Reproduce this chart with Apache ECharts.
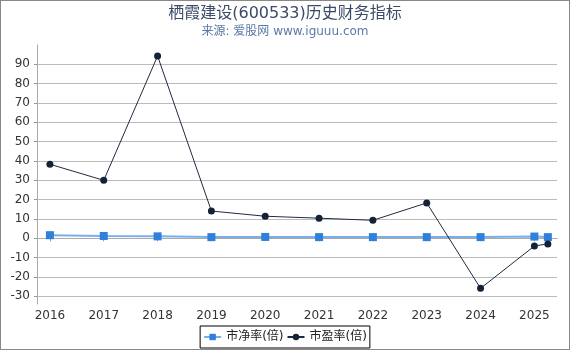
<!DOCTYPE html>
<html>
<head>
<meta charset="utf-8">
<script src="https://cdn.jsdelivr.net/npm/echarts@6/dist/echarts.min.js"></script>
<style>
html,body{margin:0;padding:0;background:#fff;}
#c{width:570px;height:350px;box-sizing:border-box;border:1px solid #888;}
</style>
</head>
<body>
<div id="c"></div>
<script>
// Report dates (x), as decimal years
var dates = [2016, 2017, 2018, 2019, 2020, 2021, 2022, 2023, 2024, 2025, 2025.25];
var pbValues = [1.6, 1.2, 1.0, 0.6, 0.7, 0.6, 0.6, 0.6, 0.6, 0.9, 0.6];
var peValues = [38.3, 30.0, 94.3, 14.1, 11.4, 10.4, 9.3, 18.3, -25.9, -4.0, -2.9];
var yTicks = [-30, -20, -10, 0, 10, 20, 30, 40, 50, 60, 70, 80, 90];
var xTicks = [2016, 2017, 2018, 2019, 2020, 2021, 2022, 2023, 2024, 2025];
var title = '栖霞建设(600533)历史财务指标';
var subtitle = '来源: 爱股网 www.iguuu.com';
var names = ['市净率(倍)', '市盈率(倍)'];

function pairs(xs, ys) { return xs.map(function (x, i) { return [x, ys[i]]; }); }

var FONT = '"DejaVu Sans", "Noto Sans CJK SC", sans-serif';
var chart = echarts.init(document.getElementById('c'), null, {renderer: 'canvas'});
chart.setOption({
  animation: false,
  textStyle: {fontFamily: FONT},
  title: {
    text: title,
    subtext: subtitle,
    left: 'center',
    top: 0,
    itemGap: 4,
    textStyle: {fontSize: 16, fontWeight: 'normal', color: '#3b4a66', fontFamily: FONT},
    subtextStyle: {fontSize: 12, color: '#5b79a6', fontFamily: FONT}
  },
  legend: {
    bottom: 1,
    left: 'center',
    data: names,
    borderColor: '#000',
    borderWidth: 1,
    borderRadius: 0,
    padding: [5, 3],
    itemGap: 3,
    itemWidth: 17,
    itemHeight: 8,
    textStyle: {fontSize: 12, color: '#222', fontFamily: FONT}
  },
  grid: {left: 36, right: 12, top: 44, bottom: 45, containLabel: false},
  xAxis: {
    type: 'value',
    min: 2015.76,
    max: 2025.42,
    axisLine: {show: true, lineStyle: {color: '#aaa'}},
    axisTick: {show: true, length: 3, lineStyle: {color: '#999'}, customValues: xTicks},
    axisLabel: {customValues: xTicks, color: '#333', fontSize: 12, margin: 6, formatter: function (v) { return String(Math.round(v)); }},
    splitLine: {show: false}
  },
  yAxis: {
    type: 'value',
    min: -34,
    max: 100,
    axisLine: {show: true, lineStyle: {color: '#aaa'}},
    axisTick: {show: true, length: 3, lineStyle: {color: '#999'}, customValues: yTicks},
    axisLabel: {customValues: yTicks, color: '#333', fontSize: 12, margin: 7},
    splitLine: {show: true, lineStyle: {color: '#bbb', width: 1}}
  },
  series: [
    {
      name: names[0],
      type: 'line',
      data: pairs(dates, pbValues),
      symbol: 'rect',
      symbolSize: 8,
      itemStyle: {color: '#2f7fdc'},
      lineStyle: {color: '#7aaee8', width: 2}
    },
    {
      name: names[1],
      type: 'line',
      data: pairs(dates, peValues),
      symbol: 'circle',
      symbolSize: 7,
      itemStyle: {color: '#142238'},
      lineStyle: {color: '#1d2b40', width: 1}
    }
  ]
});
</script>
</body>
</html>
